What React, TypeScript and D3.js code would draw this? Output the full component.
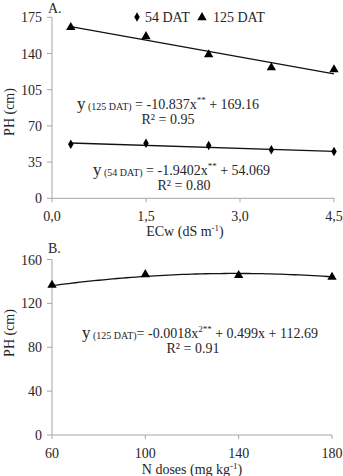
import React, { useEffect, useRef } from 'react';
import * as d3 from 'd3';

// panel A: plant height vs ECw
const ecwLevels = [0.3, 1.5, 2.5, 3.5, 4.5];
const ph54 = [52.3, 53.2, 51.0, 47.0, 45.2];
const ph125 = [165.3, 156.5, 139.0, 126.4, 124.4];
const fit54 = [-1.9402, 54.069];
const fit125 = [-10.837, 169.16];
const ecwTicks = [0, 1.5, 3.0, 4.5];
const phTicksA = [0, 35, 70, 105, 140, 175];

// panel B: plant height vs N doses
const nDoses = [60, 100, 140, 180];
const phN = [136.6, 146.3, 145.6, 144.0];
const fitN = [-0.0018, 0.499, 112.69];
const phTicksB = [0, 40, 80, 120, 160];

const FONT = '"Liberation Serif", "Times New Roman", serif';
const AXIS = '#a6a6a6';
const TXT = '#262626';

const App = () => {
  const ref = useRef<SVGSVGElement>(null);

  useEffect(() => {
    const svg = d3.select(ref.current);
    svg.selectAll('*').remove();

    const drawAxes = (g, x, y, xTicks, yTicks, xFmt) => {
      const [x0, x1] = x.range();
      const [y0] = y.range();
      g.append('line').attr('x1', x0).attr('x2', x0).attr('y1', y0).attr('y2', y(yTicks[yTicks.length - 1]))
        .attr('stroke', AXIS);
      g.append('line').attr('x1', x0).attr('x2', x1).attr('y1', y0).attr('y2', y0).attr('stroke', AXIS);
      yTicks.forEach((t) => {
        g.append('line').attr('x1', x0 - 5).attr('x2', x0).attr('y1', y(t)).attr('y2', y(t)).attr('stroke', AXIS);
        g.append('text').attr('x', x0 - 10).attr('y', y(t) + 5).attr('text-anchor', 'end')
          .text(t);
      });
      xTicks.forEach((t) => {
        g.append('line').attr('x1', x(t)).attr('x2', x(t)).attr('y1', y0).attr('y2', y0 + 4).attr('stroke', AXIS);
        g.append('text').attr('x', x(t)).attr('y', y0 + 23).attr('text-anchor', 'middle').text(xFmt(t));
      });
    };

    const tri = d3.symbol().type(d3.symbolTriangle).size(38);
    const dia = d3.symbol().type(d3.symbolDiamond).size(26);

    // ---- panel A
    const xA = d3.scaleLinear().domain([0, 4.5]).range([52, 334]);
    const yA = d3.scaleLinear().domain([0, 175]).range([198.3, 17.3]);
    const gA = svg.append('g').attr('font-family', FONT).attr('font-size', 14).attr('fill', TXT);
    drawAxes(gA, xA, yA, ecwTicks, phTicksA, (t) => d3.format('.1f')(t).replace('.', ','));

    const lineA = d3.line().x((d) => xA(d[0])).y((d) => yA(d[1]));
    [fit125, fit54].forEach((f) => {
      const pts = [ecwLevels[0], ecwLevels[ecwLevels.length - 1]].map((v) => [v, f[0] * v + f[1]]);
      gA.append('path').attr('d', lineA(pts)).attr('fill', 'none').attr('stroke', '#111').attr('stroke-width', 1.3);
    });
    gA.selectAll('.t125').data(ph125).join('path')
      .attr('transform', (d, i) => `translate(${xA(ecwLevels[i])},${yA(d)})`)
      .attr('d', tri).attr('fill', '#000');
    gA.selectAll('.d54').data(ph54).join('path')
      .attr('transform', (d, i) => `translate(${xA(ecwLevels[i])},${yA(d)})`)
      .attr('d', dia).attr('fill', '#000');

    // legend
    gA.append('path').attr('transform', 'translate(137,17)').attr('d', dia).attr('fill', '#000');
    gA.append('text').attr('x', 145).attr('y', 22).text('54 DAT');
    gA.append('path').attr('transform', 'translate(202,17.5)').attr('d', tri).attr('fill', '#000');
    gA.append('text').attr('x', 213).attr('y', 22).text('125 DAT');

    gA.append('text').attr('x', 48).attr('y', 13).text('A.');
    gA.append('text').attr('transform', 'translate(14,112) rotate(-90)').attr('text-anchor', 'middle').text('PH (cm)');
    const xlA = gA.append('text').attr('x', 185).attr('y', 236).attr('text-anchor', 'middle');
    xlA.append('tspan').text('ECw (dS m');
    xlA.append('tspan').attr('font-size', 9).attr('dy', -5).text('-1');
    xlA.append('tspan').attr('dy', 5).text(')');

    const eq = (g, x, y, sub, pre, sup, post) => {
      const t = g.append('text').attr('x', x).attr('y', y);
      t.append('tspan').attr('font-size', 17).text('y');
      t.append('tspan').attr('font-size', 10).attr('dy', 1).text(sub);
      t.append('tspan').attr('dy', -1).text(pre);
      t.append('tspan').attr('font-size', 9).attr('dy', -6).text(sup);
      t.append('tspan').attr('dy', 6).text(post);
    };
    eq(gA, 77, 109, ' (125 DAT)', ' = -10.837x', '**', ' + 169.16');
    gA.append('text').attr('x', 168).attr('y', 124).attr('text-anchor', 'middle').text('R² = 0.95');
    eq(gA, 93, 175, ' (54 DAT)', ' = -1.9402x', '**', ' + 54.069');
    gA.append('text').attr('x', 184).attr('y', 190).attr('text-anchor', 'middle').text('R² = 0.80');

    // ---- panel B
    const xB = d3.scaleLinear().domain([60, 180]).range([52, 332]);
    const yB = d3.scaleLinear().domain([0, 160]).range([435, 259.5]);
    const gB = svg.append('g').attr('font-family', FONT).attr('font-size', 14).attr('fill', TXT);
    drawAxes(gB, xB, yB, nDoses, phTicksB, (t) => String(t));

    const curve = d3.range(60, 180.1, 2).map((v) => [v, fitN[0] * v * v + fitN[1] * v + fitN[2]]);
    gB.append('path').attr('d', d3.line().x((d) => xB(d[0])).y((d) => yB(d[1]))(curve))
      .attr('fill', 'none').attr('stroke', '#111').attr('stroke-width', 1.3);
    gB.selectAll('.tN').data(phN).join('path')
      .attr('transform', (d, i) => `translate(${xB(nDoses[i])},${yB(d)})`)
      .attr('d', tri).attr('fill', '#000');

    gB.append('text').attr('x', 48).attr('y', 253).text('B.');
    gB.append('text').attr('transform', 'translate(14,333) rotate(-90)').attr('text-anchor', 'middle').text('PH (cm)');
    const xlB = gB.append('text').attr('x', 192).attr('y', 474).attr('text-anchor', 'middle');
    xlB.append('tspan').text('N doses (mg kg');
    xlB.append('tspan').attr('font-size', 9).attr('dy', -5).text('-1');
    xlB.append('tspan').attr('dy', 5).text(')');

    const tB = gB.append('text').attr('x', 82).attr('y', 338);
    tB.append('tspan').attr('font-size', 17).text('y');
    tB.append('tspan').attr('font-size', 10).attr('dy', 1).text(' (125 DAT)');
    tB.append('tspan').attr('dy', -1).text('= -0.0018x');
    tB.append('tspan').attr('font-size', 9).attr('dy', -6).text('2**');
    tB.append('tspan').attr('dy', 6).text(' + 0.499x + 112.69');
    gB.append('text').attr('x', 193).attr('y', 353).attr('text-anchor', 'middle').text('R² = 0.91');
  }, []);

  return (
    <svg ref={ref} width={343} height={476}
      style={{ position: 'absolute', left: 0, top: 0, background: '#fff' }} />
  );
};

export default App;
